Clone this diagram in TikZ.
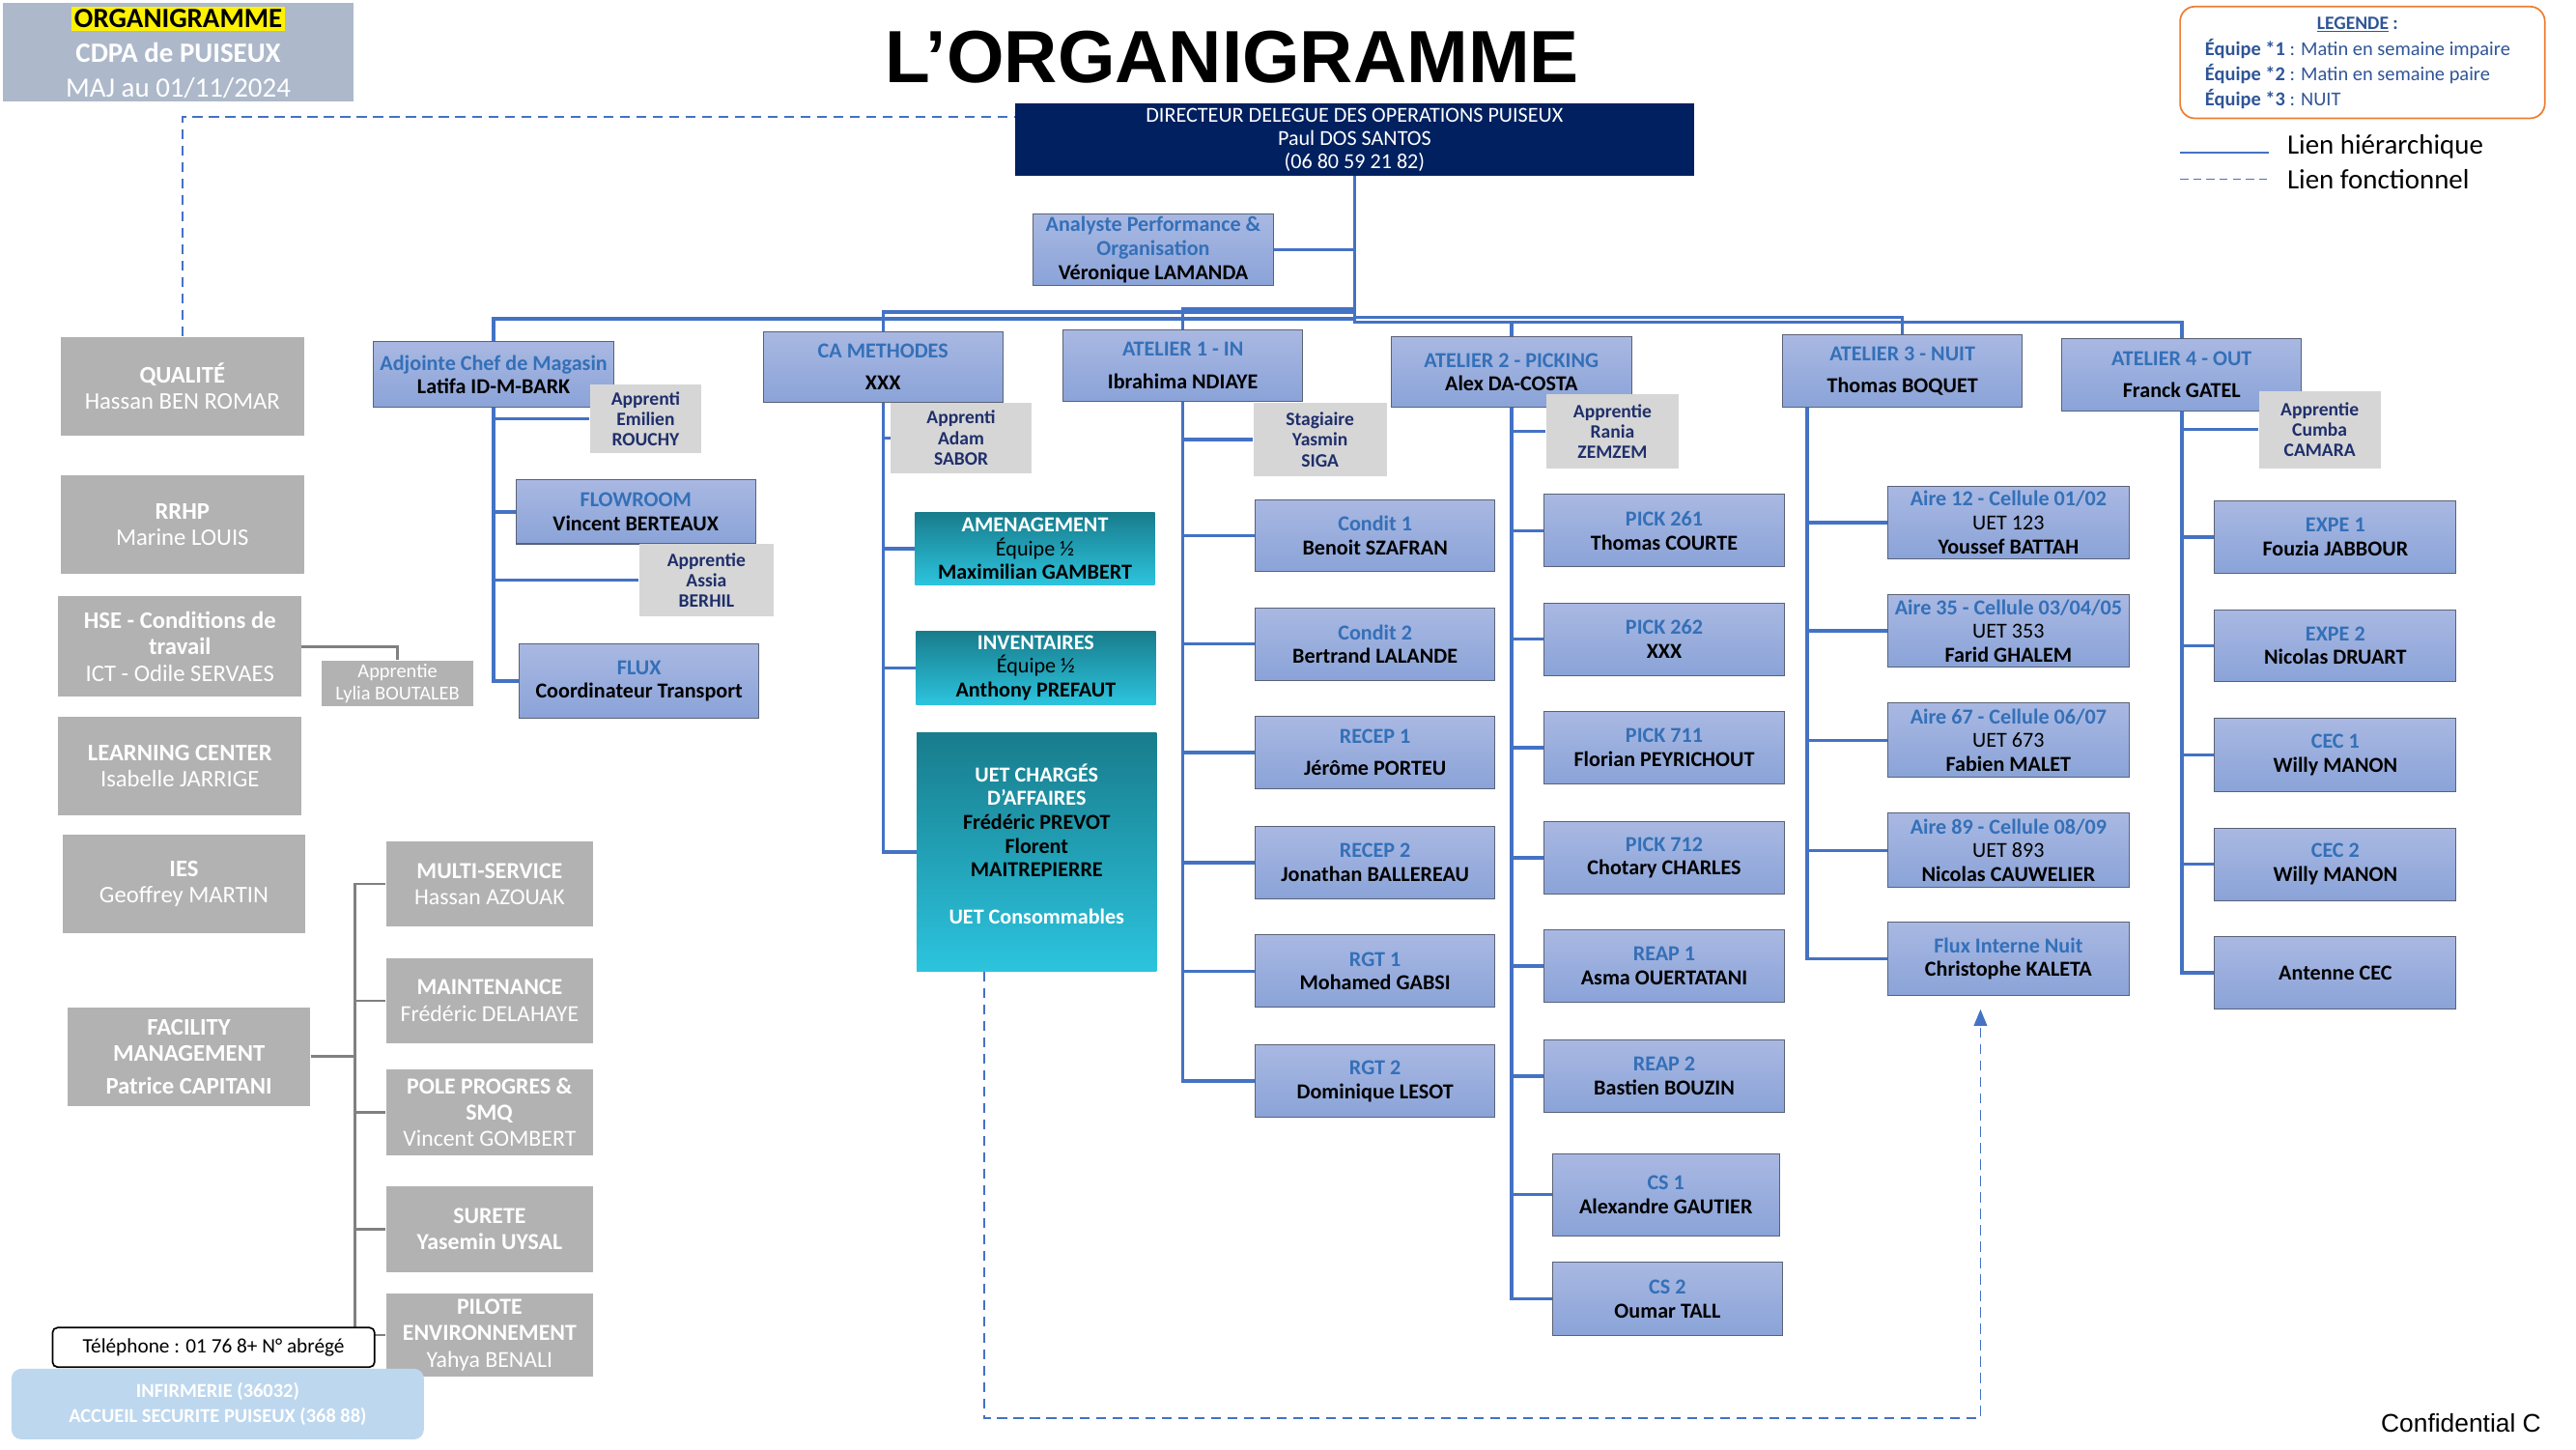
\documentclass[tikz,border=0pt]{standalone}
\usepackage{fontspec}
\setmainfont{Carlito}
\newfontfamily\arialfont{Liberation Sans}
\usepackage{tikz}
\usetikzlibrary{arrows.meta}
\definecolor{navy}{HTML}{002060}
\definecolor{linkblue}{HTML}{4472C4}
\definecolor{ttlblue}{HTML}{3470B8}
\definecolor{boxtop}{HTML}{A9B8E2}
\definecolor{boxbot}{HTML}{8AA3D8}
\definecolor{boxedge}{HTML}{5A6275}
\definecolor{grayfill}{HTML}{B2B2B2}
\definecolor{appgray}{HTML}{D6D6D6}
\definecolor{appnavy}{HTML}{1F2F6B}
\definecolor{tealdark}{HTML}{187C8C}
\definecolor{teallight}{HTML}{2CC4DE}
\definecolor{headfill}{HTML}{ADB9CA}
\definecolor{legorange}{HTML}{ED7D31}
\definecolor{legblue}{HTML}{2F5597}
\definecolor{infirm}{HTML}{BDD7EE}
\newcommand{\ttl}[1]{\textcolor{ttlblue}{\textbf{#1}}}
\newcommand{\nm}[1]{\textbf{#1}}
\newcommand{\wt}[1]{\textcolor{white}{\textbf{#1}}}
\tikzset{
  bluebox/.style={draw=boxedge, line width=0.6pt, top color=boxtop, bottom color=boxbot,
    align=center, inner sep=1pt, minimum width=146pt, minimum height=44pt,
    font=\fontsize{13}{14.5}\selectfont},
  tealbox/.style={top color=tealdark, bottom color=teallight, align=center, inner sep=1pt,
    minimum width=146pt, minimum height=44pt, font=\fontsize{13}{14.5}\selectfont},
  graybox/.style={fill=grayfill, text=white, align=center, inner sep=1pt,
    minimum width=148pt, minimum height=60pt, font=\fontsize{14.5}{16}\selectfont},
  facbox/.style={graybox, minimum width=126pt, minimum height=52pt,
    font=\fontsize{14}{16}\selectfont},
  appbox/.style={fill=appgray, text=appnavy, align=center, inner sep=1pt,
    font=\bfseries\fontsize{11.5}{12.5}\selectfont},
  hier/.style={draw=linkblue, line width=2pt},
  func/.style={draw=linkblue, dash pattern=on 6pt off 4pt, line width=1pt},
  gline/.style={draw=gray, line width=1.5pt}
}

\begin{document}
\begin{tikzpicture}[x=1pt, y=-1pt]
\useasboundingbox (0,0) rectangle (1568,882);

% header
\node[fill=headfill, text=white, align=center, minimum width=213pt, minimum height=60pt,
  inner sep=0pt, font=\fontsize{17}{21}\selectfont] (head) at (108.5,32)
  {{\fboxsep=1.5pt\colorbox{yellow}{\textcolor{black}{\textbf{ORGANIGRAMME}}}}\\
   \textbf{CDPA de PUISEUX}\\MAJ au 01/11/2024};
\node[font=\arialfont\bfseries\fontsize{45}{50}\selectfont] (title) at (750,35) {L’ORGANIGRAMME};

% legend
\node[draw=legorange, line width=1pt, rounded corners=9pt, minimum width=222pt,
  minimum height=68pt] (leg) at (1438,38) {};
\node[text=legblue, font=\bfseries\fontsize{11.5}{13}\selectfont] (leghead) at (1435,15)
  {\underline{LEGENDE} :};
\foreach \k/\txt [count=\i] in {1/Matin en semaine impaire, 2/Matin en semaine paire, 3/NUIT}
  \node[anchor=west, text=legblue, inner sep=0pt, font=\fontsize{12}{13}\selectfont]
    (leg\i) at (1342,15+15*\i) {\textbf{Équipe *\k} : \txt};
\coordinate (lhA) at (1327,93);
\coordinate (lhB) at (1381,93);
\coordinate (lfA) at (1327,109);
\coordinate (lfB) at (1381,109);
\draw[hier, line width=1pt] (lhA) -- (lhB);
\draw[func, dash pattern=on 5pt off 3pt] (lfA) -- (lfB);
\node[anchor=west, inner sep=0pt, font=\fontsize{17}{19}\selectfont] (lhtxt) at (1392,89) {Lien hiérarchique};
\node[anchor=west, inner sep=0pt, font=\fontsize{17}{19}\selectfont] (lftxt) at (1392,109) {Lien fonctionnel};

% direction
\node[fill=navy, text=white, align=center, minimum width=413pt, minimum height=44pt,
  inner sep=0pt, font=\fontsize{13}{14}\selectfont] (dir) at (824.5,85)
  {DIRECTEUR DELEGUE DES OPERATIONS PUISEUX\\Paul DOS SANTOS\\(06 80 59 21 82)};
\node[bluebox] (ana) at (702,152)
  {\ttl{Analyste Performance \&}\\\ttl{Organisation}\\\nm{Véronique LAMANDA}};

% left column
\node[graybox] (qual) at (111,235) {\textbf{QUALITÉ}\\Hassan BEN ROMAR};
\node[graybox] (rrhp) at (111,319.5) {\textbf{RRHP}\\Marine LOUIS};
\node[graybox, minimum height=61pt] (hse) at (109.5,393.5)
  {\textbf{HSE - Conditions de}\\\textbf{travail}\\ICT - Odile SERVAES};
\node[graybox] (lc) at (109.5,466) {\textbf{LEARNING CENTER}\\Isabelle JARRIGE};
\node[graybox] (ies) at (112,538) {\textbf{IES}\\Geoffrey MARTIN};
\node[graybox] (fac) at (115,643)
  {\textbf{FACILITY}\\\textbf{MANAGEMENT}\\[4pt]\textbf{Patrice CAPITANI}};
\node[graybox, minimum width=92pt, minimum height=28pt, fill=gray!60,
  font=\fontsize{12}{13.5}\selectfont] (lylia) at (242,416) {Apprentie\\Lylia BOUTALEB};

\node[facbox] (ms) at (298,538) {\textbf{MULTI-SERVICE}\\Hassan AZOUAK};
\node[facbox] (mnt) at (298,609) {\textbf{MAINTENANCE}\\Frédéric DELAHAYE};
\node[facbox] (pole) at (298,677) {\textbf{POLE PROGRES \&}\\\textbf{SMQ}\\Vincent GOMBERT};
\node[facbox] (sur) at (298,748) {\textbf{SURETE}\\\textbf{Yasemin UYSAL}};
\node[facbox, minimum height=51pt] (pil) at (298,812.5)
  {\textbf{PILOTE}\\\textbf{ENVIRONNEMENT}\\Yahya BENALI};

% adjointe
\node[bluebox, minimum height=40pt] (adj) at (300.5,228)
  {\ttl{Adjointe Chef de Magasin}\\\nm{Latifa ID-M-BARK}};
\node[appbox, minimum width=68pt, minimum height=42pt] (emil) at (393,255) {Apprenti\\Emilien\\ROUCHY};
\node[bluebox, minimum height=39pt] (flow) at (387,311.5) {\ttl{FLOWROOM}\\\nm{Vincent BERTEAUX}};
\node[appbox, minimum width=82pt, minimum height=44pt] (assia) at (430,353) {Apprentie\\Assia\\BERHIL};
\node[bluebox, minimum height=45pt] (flux) at (389,414.5) {\ttl{FLUX}\\\nm{Coordinateur Transport}};

% methodes
\node[bluebox, minimum height=43pt] (meth) at (537.5,223.5) {\ttl{CA METHODES}\\[5pt]\nm{XXX}};
\node[appbox, minimum width=86pt, minimum height=43pt] (adam) at (585,266.5) {Apprenti\\Adam\\SABOR};
\node[tealbox] (amen) at (630,334) {\wt{AMENAGEMENT}\\Équipe ½\\\nm{Maximilian GAMBERT}};
\node[tealbox, minimum height=45pt] (inv) at (630.5,406.5) {\wt{INVENTAIRES}\\Équipe ½\\\nm{Anthony PREFAUT}};
\node[tealbox, minimum height=145pt] (uet) at (631,518.5)
  {\wt{UET CHARGÉS}\\\wt{D’AFFAIRES}\\\nm{Frédéric PREVOT}\\\nm{Florent}\\\nm{MAITREPIERRE}\\[14pt]\wt{UET Consommables}\\[-4.5pt]};

% atelier 1
\node[bluebox, minimum height=43pt] (at1) at (720,222.5) {\ttl{ATELIER 1 - IN}\\[5pt]\nm{Ibrahima NDIAYE}};
\node[appbox, minimum width=81pt, minimum height=45pt] (siga) at (803.5,267.5) {Stagiaire\\Yasmin\\SIGA};
\node[bluebox] (cd1) at (837,326) {\ttl{Condit 1}\\\nm{Benoit SZAFRAN}};
\node[bluebox] (cd2) at (837,392) {\ttl{Condit 2}\\\nm{Bertrand LALANDE}};
\node[bluebox] (rc1) at (837,458) {\ttl{RECEP 1}\\[5pt]\nm{Jérôme PORTEU}};
\node[bluebox] (rc2) at (837,525) {\ttl{RECEP 2}\\\nm{Jonathan BALLEREAU}};
\node[bluebox] (rg1) at (837,591) {\ttl{RGT 1}\\\nm{Mohamed GABSI}};
\node[bluebox] (rg2) at (837,658) {\ttl{RGT 2}\\\nm{Dominique LESOT}};

% atelier 2
\node[bluebox, minimum height=43pt] (at2) at (920,226.5) {\ttl{ATELIER 2 - PICKING}\\\nm{Alex DA-COSTA}};
\node[appbox, minimum width=81pt, minimum height=45pt] (rania) at (981.5,262.5) {Apprentie\\Rania\\ZEMZEM};
\node[bluebox] (pk261) at (1013,323) {\ttl{PICK 261}\\\nm{Thomas COURTE}};
\node[bluebox] (pk262) at (1013,389) {\ttl{PICK 262}\\\nm{XXX}};
\node[bluebox] (pk711) at (1013,455) {\ttl{PICK 711}\\\nm{Florian PEYRICHOUT}};
\node[bluebox] (pk712) at (1013,522) {\ttl{PICK 712}\\\nm{Chotary CHARLES}};
\node[bluebox] (rp1) at (1013,588) {\ttl{REAP 1}\\\nm{Asma OUERTATANI}};
\node[bluebox] (rp2) at (1013,655) {\ttl{REAP 2}\\\nm{Bastien BOUZIN}};
\node[bluebox, minimum width=138pt, minimum height=50pt] (cs1) at (1014,727) {\ttl{CS 1}\\\nm{Alexandre GAUTIER}};
\node[bluebox, minimum width=140pt, minimum height=45pt] (cs2) at (1015,790.5) {\ttl{CS 2}\\\nm{Oumar TALL}};

% atelier 3
\node[bluebox] (at3) at (1158,226) {\ttl{ATELIER 3 - NUIT}\\[5pt]\nm{Thomas BOQUET}};
\node[bluebox, minimum width=147pt] (ar12) at (1222.5,318) {\ttl{Aire 12 - Cellule 01/02}\\UET 123\\\nm{Youssef BATTAH}};
\node[bluebox, minimum width=147pt] (ar35) at (1222.5,384) {\ttl{Aire 35 - Cellule 03/04/05}\\UET 353\\\nm{Farid GHALEM}};
\node[bluebox, minimum width=147pt, minimum height=45pt] (ar67) at (1222.5,450.5) {\ttl{Aire 67 - Cellule 06/07}\\UET 673\\\nm{Fabien MALET}};
\node[bluebox, minimum width=147pt, minimum height=45pt] (ar89) at (1222.5,517.5) {\ttl{Aire 89 - Cellule 08/09}\\UET 893\\\nm{Nicolas CAUWELIER}};
\node[bluebox, minimum width=147pt, minimum height=45pt] (fin) at (1222.5,583.5) {\ttl{Flux Interne Nuit}\\\nm{Christophe KALETA}};

% atelier 4
\node[bluebox] (at4) at (1328,228) {\ttl{ATELIER 4 - OUT}\\[5pt]\nm{Franck GATEL}};
\node[appbox, minimum width=74pt, minimum height=47pt] (cumba) at (1412,261.5) {Apprentie\\Cumba\\CAMARA};
\node[bluebox, minimum width=147pt] (ex1) at (1421.5,327) {\ttl{EXPE 1}\\\nm{Fouzia JABBOUR}};
\node[bluebox, minimum width=147pt] (ex2) at (1421.5,393) {\ttl{EXPE 2}\\\nm{Nicolas DRUART}};
\node[bluebox, minimum width=147pt, minimum height=45pt] (cec1) at (1421.5,459.5) {\ttl{CEC 1}\\\nm{Willy MANON}};
\node[bluebox, minimum width=147pt] (cec2) at (1421.5,526) {\ttl{CEC 2}\\\nm{Willy MANON}};
\node[bluebox, minimum width=147pt] (ant) at (1421.5,592) {\nm{Antenne CEC}};

% hierarchical links
\draw[hier] (dir.south) -- (dir.south |- 0,194) -| (adj.north);
\draw[hier] (dir.south) -- (dir.south |- 0,190) -| (meth.north);
\draw[hier] (dir.south) -- (dir.south |- 0,188) -| (at1.north);
\draw[hier] (dir.south) -- (dir.south |- 0,196) -| (at2.north);
\draw[hier] (dir.south) -- (dir.south |- 0,193) -| (at3.north);
\draw[hier] (dir.south) -- (dir.south |- 0,196) -| (at4.north);
\draw[hier] (ana.east) -- (ana.east -| dir.south);
\foreach \n in {emil,flow,assia,flux}
  \draw[hier] (adj.south) |- (\n.west);
\foreach \n in {adam,amen,inv,uet}
  \draw[hier] (meth.south) |- (\n.west);
\foreach \n in {siga,cd1,cd2,rc1,rc2,rg1,rg2}
  \draw[hier] (at1.south) |- (\n.west);
\foreach \n in {rania,pk261,pk262,pk711,pk712,rp1,rp2,cs1,cs2}
  \draw[hier] (at2.south) |- (\n.west);
\foreach \n in {ar12,ar35,ar67,ar89,fin}
  \draw[hier] ([xshift=-58pt]at3.south) |- (\n.west);
\foreach \n in {cumba,ex1,ex2,cec1,cec2,ant}
  \draw[hier] (at4.south) |- (\n.west);

% support functions
\draw[gline] (hse.east) -| (lylia.north);
\foreach \n in {ms,mnt,pole,sur,pil}
  \draw[gline] (fac.east) -- ++(27,0) |- (\n.west);

% functional links
\draw[func] (qual.north) |- ([yshift=14pt]dir.west);
\draw[func, -{Triangle[length=10pt, width=8pt]}] ([xshift=-32pt]uet.south) -- ++(0,272)
  -| ([xshift=-17pt, yshift=-8pt]fin.south);

% contacts
\node[draw=black, fill=white, line width=1pt, rounded corners=3pt, minimum width=196pt,
  minimum height=24pt, inner sep=0pt, font=\fontsize{12.5}{13}\selectfont] (tel) at (130,820)
  {Téléphone : 01 76 8+ N° abrégé};
\node[fill=infirm, text=white, rounded corners=6pt, align=center, minimum width=251pt,
  minimum height=43pt, inner sep=0pt, font=\bfseries\fontsize{12}{15}\selectfont] (inf) at (132.5,854.5)
  {INFIRMERIE (36032)\\ACCUEIL SECURITE PUISEUX (368 88)};

\node[font=\arialfont\fontsize{15.5}{17}\selectfont] (conf) at (1498,866) {Confidential C};
\end{tikzpicture}
\end{document}
